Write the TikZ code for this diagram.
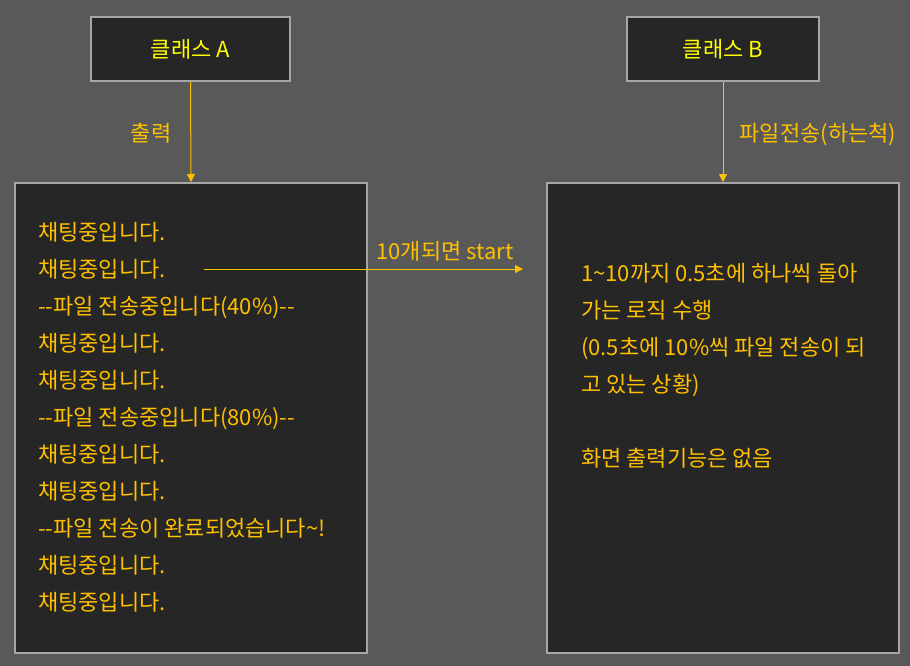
\documentclass[tikz,border=0pt]{standalone}
\usepackage{fontspec}
\setmainfont{Noto Sans CJK KR}
\usetikzlibrary{arrows.meta}
\definecolor{bgc}{HTML}{595959}
\definecolor{boxc}{HTML}{262626}
\definecolor{edgec}{HTML}{A6A6A6}
\definecolor{goldc}{HTML}{FFC000}
\definecolor{yelc}{HTML}{FFFF00}
\tikzset{
  x=1pt, y=-1pt,
  panel/.style={draw=edgec, line width=2pt, fill=boxc, inner sep=0pt},
  titletxt/.style={text=yelc, font=\fontsize{22}{26}\selectfont},
  txt/.style={text=goldc, font=\fontsize{22}{26}\selectfont, inner sep=0pt, anchor=base west},
  lbl/.style={text=goldc, font=\fontsize{22}{26}\selectfont, inner sep=0pt, anchor=base},
  conn/.style={draw=goldc, line width=1pt, -{Triangle[width=8pt,length=8pt]}},
}
\begin{document}
\begin{tikzpicture}
\fill[bgc] (0,0) rectangle (910,666);
\useasboundingbox (0,0) rectangle (910,666);
\node[panel, minimum width=199pt, minimum height=64pt] (titleA) at (190.5,49) {};
\node[titletxt] (titleAtext) at (titleA.center) {클래스 A};
\node[panel, minimum width=192pt, minimum height=64pt] (titleB) at (723,49) {};
\node[titletxt] (titleBtext) at (titleB.center) {클래스 B};
\node[panel, minimum width=352pt, minimum height=470pt] (bigA) at (191,418) {};
\node[panel, minimum width=352pt, minimum height=470pt] (bigB) at (723,418) {};
\draw[conn] (titleA.south) -- (bigA.north);
\draw[conn] (titleB.south) -- (bigB.north);
\node[lbl] (lblA) at (151,142) {출력};
\node[lbl] (lblB) at (818,142) {파일전송(하는척)};
\coordinate (hs) at (204,269);
\coordinate (he) at (523,269);
\draw[conn] (hs) -- (he);
\node[lbl] (lblH) at (445,259) {10개되면 start};
\foreach \t [count=\i] in {채팅중입니다., 채팅중입니다., {-}{-}파일 전송중입니다(40\%){-}{-}, 채팅중입니다., 채팅중입니다., {-}{-}파일 전송중입니다(80\%){-}{-}, 채팅중입니다., 채팅중입니다., {-}{-}파일 전송이 완료되었습니다\textasciitilde!, 채팅중입니다., 채팅중입니다.}
  \node[txt] (lineA\i) at (38,{240+37*(\i-1)}) {\t};
\node[txt] (lineB1) at (581,281) {1\textasciitilde10까지 0.5초에 하나씩 돌아};
\node[txt] (lineB2) at (581,318) {가는 로직 수행};
\node[txt] (lineB3) at (581,355) {(0.5초에 10\%씩 파일 전송이 되};
\node[txt] (lineB4) at (581,392) {고 있는 상황)};
\node[txt] (lineB6) at (581,466) {화면 출력기능은 없음};
\end{tikzpicture}
\end{document}
